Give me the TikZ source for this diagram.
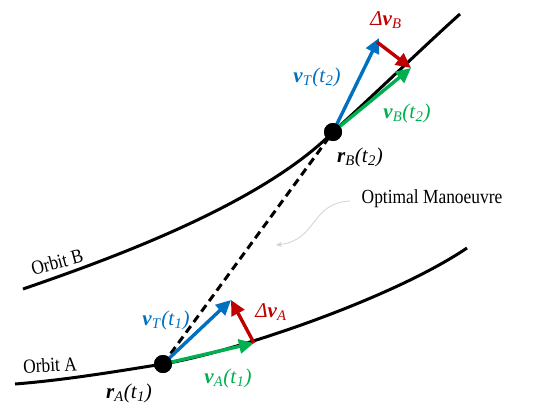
\documentclass[tikz,border=0pt]{standalone}
\usepackage{fontspec}
\setmainfont[FakeStretch=0.87]{Liberation Serif}
\newfontfamily\lblfont{Liberation Serif}
\usetikzlibrary{arrows.meta}
\definecolor{cblue}{RGB}{0,112,192}
\definecolor{cgreen}{RGB}{0,176,80}
\definecolor{cred}{RGB}{192,0,0}
\newcommand\vv{\textit{\textbf{v}}}
\newcommand\rr{\textit{\textbf{r}}}
\newcommand\dd{\textit{Δ}}
\newcommand\sub[1]{\textsubscript{\textit{#1}}}
\tikzset{
  orbit/.style={line width=3pt, black},
  vec/.style={line width=3.4pt, -{Triangle[length=15pt,width=14pt]}},
  txt/.style={font=\fontsize{20}{21}\selectfont, inner sep=0pt},
  lbl/.style={font=\lblfont\fontsize{21}{22}\selectfont, inner sep=0pt},
  dot/.style={circle, fill=black, minimum size=18pt, inner sep=0pt},
}
\begin{document}
\begin{tikzpicture}[x=1pt,y=-1pt]
\useasboundingbox (0,0) rectangle (534,405);
% points
\node[dot] (A) at (163,364) {};
\node[dot] (B) at (333,132) {};
% orbits
\draw[orbit] (15,384) .. controls (65,380) and (113,372) .. (A.center)
  .. controls (230,353) and (390,300) .. (467,248);
\draw[orbit] (23,289) .. controls (110,259) and (260,205) .. (B.center)
  .. controls (375,94) and (420,50) .. (460,14);
\coordinate (TA) at (231,300);
\coordinate (GA) at (254,343);
\coordinate (TB) at (379,38);
\coordinate (GB) at (411,68);
% transfer
\draw[line width=3pt, dash pattern=on 8pt off 5pt] (A.center) -- (B.center);
% vectors at A
\draw[vec, cgreen] (A.center) -- (GA);
\draw[vec, cblue] (A.center) -- (TA);
\draw[vec, cred] (GA) -- (TA);
% vectors at B
\draw[vec, cgreen] (B.center) -- (GB);
\draw[vec, cblue] (B.center) -- (TB);
\draw[vec, cred] (377,42) -- (GB);
\node[dot] at (A) {};
\node[dot] at (B) {};
% labels
\node[lbl, cred] (dB) at (386,20) {\dd\vv\sub{B}};
\node[lbl, cblue] (vTB) at (317,77) {\vv\sub{T}\textit{(t}\sub{2}\textit{)}};
\node[lbl, cgreen] (vB) at (407,113) {\vv\sub{B}\textit{(t}\sub{2}\textit{)}};
\node[lbl] (rB) at (360,157) {\rr\sub{B}\textit{(t}\sub{2}\textit{)}};
\node[lbl, cred] (dA) at (271,312) {\dd\vv\sub{A}};
\node[lbl, cblue] (vTA) at (166,320) {\vv\sub{T}\textit{(t}\sub{1}\textit{)}};
\node[lbl, cgreen] (vA) at (228,378) {\vv\sub{A}\textit{(t}\sub{1}\textit{)}};
\node[lbl] (rA) at (129,393) {\rr\sub{A}\textit{(t}\sub{1}\textit{)}};
\node[txt] (opt) at (432,199) {Optimal Manoeuvre};
\node[txt, rotate=15] (oB) at (57,262) {Orbit B};
\node[txt, rotate=3] (oA) at (50,365) {Orbit A};
\draw[gray!35, line width=0.8pt, -{Stealth[length=6pt,width=5pt]}] (350,201) .. controls (310,203) and (318,240) .. (276,245);
\end{tikzpicture}
\end{document}
